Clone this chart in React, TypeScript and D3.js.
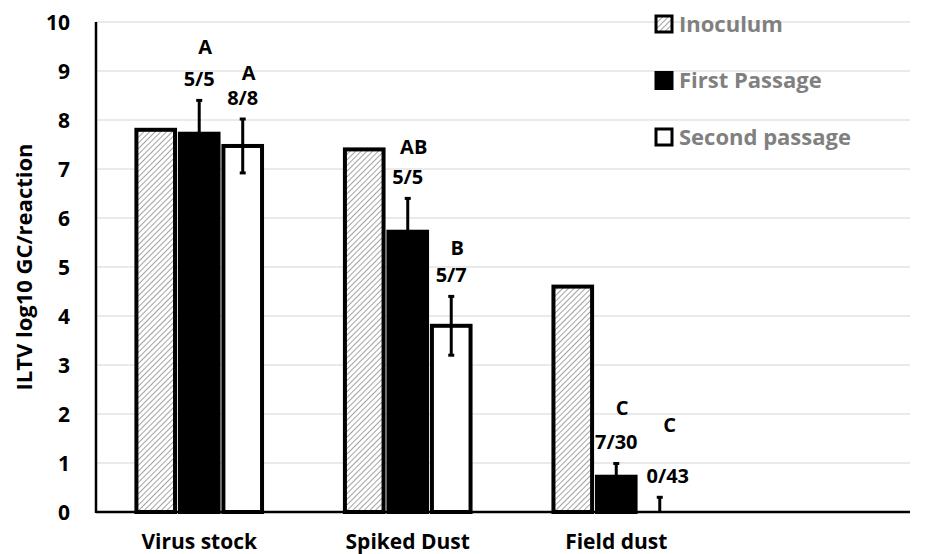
import React from 'react';
import * as d3 from 'd3';

const categories = ['Virus stock', 'Spiked Dust', 'Field dust', ''];
const seriesNames = ['Inoculum', 'First Passage', 'Second passage'];
const inoculum = [7.8, 7.4, 4.6];
const firstPassage = [7.72, 5.72, 0.72];
const secondPassage = [7.47, 3.8, 0];
const firstErr = [0.68, 0.68, 0.27];
const secondErr = [0.55, 0.6, 0.3];
const firstLetters = ['A', 'AB', 'C'];
const secondLetters = ['A', 'B', 'C'];
const firstRatios = ['5/5', '5/5', '7/30'];
const secondRatios = ['8/8', '5/7', '0/43'];
const yTicks = [0, 1, 2, 3, 4, 5, 6, 7, 8, 9, 10];

// small visual nudges (px) to follow the hand-placed labels of the original
const firstLetterGap = [32, 30, 34];
const secondLetterGap = [25, 27, 51];

const W = 929;
const H = 554;
const font = '"Open Sans", Lato, sans-serif';

export default function App() {
  const y = d3.scaleLinear().domain([0, 10]).range([512, 22]);
  const x0 = d3.scaleBand().domain(categories).range([96, 928]).paddingInner(0.37).paddingOuter(0.18);
  const x1 = d3.scaleBand().domain(seriesNames).range([0, x0.bandwidth()]).padding(0.02);

  const rows = categories.slice(0, 3).map((c, i) => ({
    c,
    vals: [inoculum[i], firstPassage[i], secondPassage[i]],
    errs: [0, firstErr[i], secondErr[i]],
    letters: ['', firstLetters[i], secondLetters[i]],
    ratios: ['', firstRatios[i], secondRatios[i]],
    gaps: [0, firstLetterGap[i], secondLetterGap[i]],
  }));

  return (
    <svg width={W} height={H} style={{ position: 'absolute', left: 0, top: 0 }}>
      <defs>
        <pattern id="hatch" width="4" height="4" patternUnits="userSpaceOnUse" patternTransform="rotate(45)">
          <rect width="4" height="4" fill="#ffffff" />
          <line x1="0" y1="0" x2="0" y2="4" stroke="#8c8c8c" strokeWidth="1.6" />
        </pattern>
      </defs>
      <rect width={W} height={H} fill="#fff" />
      {yTicks.filter(t => t > 0).map(t => (
        <line key={t} x1={96} x2={910} y1={y(t)} y2={y(t)} stroke="#e3e3e3" strokeWidth={1.5} />
      ))}
      {yTicks.map(t => (
        <text key={t} x={70} y={y(t)} dy="0.36em" textAnchor="end" fontFamily={font} fontWeight="bold" fontSize={21} fill="#000">
          {t}
        </text>
      ))}
      <text transform={`translate(24,${y(5)}) rotate(-90)`} textAnchor="middle" dy="0.35em" fontFamily={font} fontWeight="bold" fontSize={22}>
        ILTV log10 GC/reaction
      </text>
      {rows.map((r, i) => (
        <g key={r.c} transform={`translate(${x0(r.c)},0)`}>
          {seriesNames.map((s, j) => {
            const bx = x1(s)!;
            const bw = x1.bandwidth();
            const cx = bx + bw / 2;
            const v = r.vals[j];
            const fill = j === 0 ? 'url(#hatch)' : j === 1 ? '#000' : '#fff';
            const top = y(v + r.errs[j]);
            return (
              <g key={s}>
                {v > 0 && (
                  <rect x={bx + 2} y={y(v)} width={bw - 4} height={y(0) - y(v)} fill={fill} stroke="#000" strokeWidth={4} />
                )}
                {r.errs[j] > 0 && (
                  <g stroke="#000" strokeWidth={3}>
                    <line x1={cx} x2={cx} y1={top} y2={y(Math.max(0, v - r.errs[j]))} />
                    <line x1={cx - 3} x2={cx + 3} y1={top} y2={top} />
                    {v - r.errs[j] > 0 && (
                      <line x1={cx - 3} x2={cx + 3} y1={y(v - r.errs[j])} y2={y(v - r.errs[j])} />
                    )}
                  </g>
                )}
                {r.ratios[j] && (
                  <text x={cx + (i === 2 && j === 2 ? 8 : 0)} y={top - 14} textAnchor="middle" fontFamily={font} fontWeight="bold" fontSize={20}>
                    {r.ratios[j]}
                  </text>
                )}
                {r.letters[j] && (
                  <text x={cx + (i === 2 && j === 2 ? 10 : 6)} y={top - 14 - r.gaps[j]} textAnchor="middle" fontFamily={font} fontWeight="bold" fontSize={20}>
                    {r.letters[j]}
                  </text>
                )}
              </g>
            );
          })}
          <text x={x0.bandwidth() / 2} y={549} textAnchor="middle" fontFamily={font} fontWeight="bold" fontSize={21}>
            {r.c}
          </text>
        </g>
      ))}
      <line x1={96} x2={910} y1={y(0)} y2={y(0)} stroke="#000" strokeWidth={2.5} />
      <line x1={96} x2={96} y1={y(10)} y2={y(0) + 1} stroke="#000" strokeWidth={2.5} />
      {seriesNames.map((s, j) => {
        const ly = 24 + j * 56.5;
        const fill = j === 0 ? 'url(#hatch)' : j === 1 ? '#000' : '#fff';
        return (
          <g key={s}>
            <rect x={656} y={ly - 8} width={16} height={16} fill={fill} stroke="#000" strokeWidth={3} />
            <text x={679} y={ly} dy="0.36em" fontFamily={font} fontWeight="bold" fontSize={22} fill="#808080">
              {s}
            </text>
          </g>
        );
      })}
    </svg>
  );
}
